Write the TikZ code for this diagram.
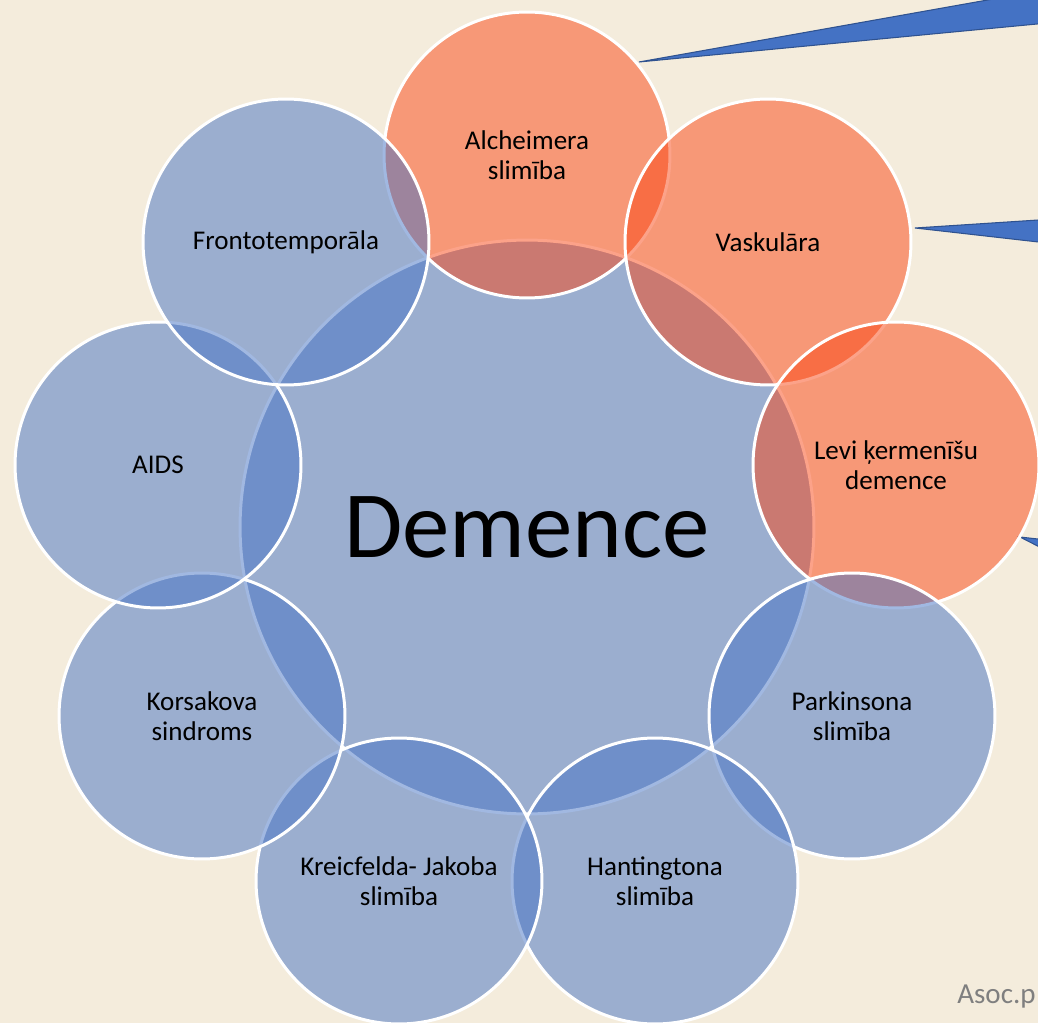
\documentclass[tikz,border=0pt]{standalone}
\usepackage{fontspec}
\setmainfont{Carlito}
\definecolor{bgc}{HTML}{F4ECDC}
\definecolor{bluec}{HTML}{4472C4}
\definecolor{orangec}{HTML}{FA4614}
\definecolor{calldraw}{HTML}{2F528F}
\definecolor{srcgray}{HTML}{7F7F7F}
\begin{document}
\begin{tikzpicture}[x=0.02cm,y=-0.02cm,
  ring/.style={circle, inner sep=0pt, minimum size=5.72cm, draw=white, line width=1.7pt,
    fill opacity=0.5, draw opacity=1, text opacity=1, align=center,
    font=\fontsize{15.4}{17.2}\selectfont},
  bluering/.style={ring, fill=bluec},
  orangering/.style={ring, fill=orangec},
  callout/.style={fill=bluec, draw=calldraw, line width=0.6pt, line join=miter}]
\fill[bgc] (0,0) rectangle (1038,1023);
\useasboundingbox (0,0) rectangle (1038,1023);
\begin{scope}
\clip (0,0) rectangle (1038,1023);
% callouts
\coordinate (c1) at (639,62);
\coordinate (c2) at (915,228);
\coordinate (c3) at (1020,537);
\draw[callout] (c1) -- (1100,-20) -- (1100,18) -- cycle;
\draw[callout] (c2) -- (1100,216) -- (1100,249) -- cycle;
\draw[callout] (c3) -- (1100,546) -- (1100,578) -- cycle;
% central circle
\node[bluering, minimum size=11.48cm, font=\fontsize{54}{58}\selectfont] (dem) at (527,527) {Demence};
% outer circles
\node[orangering] (alc) at (527,155) {Alcheimera\\slimība};
\node[orangering] (vask) at (768,242) {Vaskulāra};
\node[orangering] (levi) at (896,465) {Levi ķermenīšu\\demence};
\node[bluering] (park) at (852,716) {Parkinsona\\slimība};
\node[bluering] (hant) at (655,881) {Hantingtona\\slimība};
\node[bluering] (kreic) at (399,881) {Kreicfelda- Jakoba\\slimība};
\node[bluering] (kors) at (202,716) {Korsakova\\sindroms};
\node[bluering] (aids) at (158,465) {AIDS};
\node[bluering] (front) at (286,242) {Frontotemporāla};
% source
\node[anchor=base west, text=srcgray, font=\fontsize{16.5}{18}\selectfont, inner sep=0pt] (src) at (957,1003) {Asoc.p};
\end{scope}
\end{tikzpicture}
\end{document}
